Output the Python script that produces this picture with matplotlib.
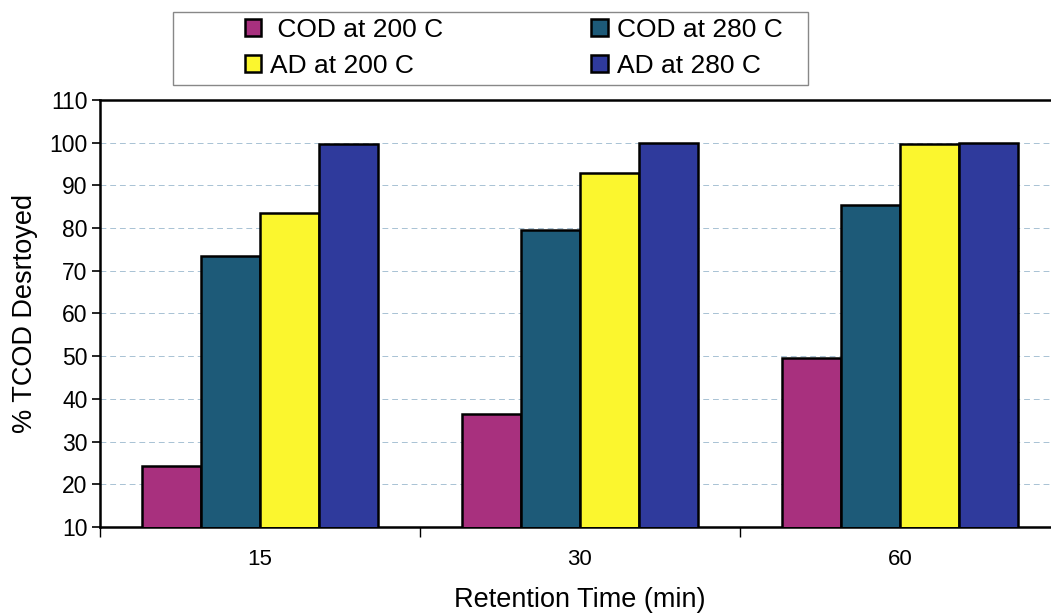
import matplotlib

matplotlib.use("Agg")
import matplotlib.pyplot as plt
from matplotlib.patches import Rectangle
import numpy as np

# data
retention = ["15", "30", "60"]
series = ["COD at 200 C", "COD at 280 C", "AD at 200 C", "AD at 280 C"]
cod_200 = [24.2, 36.5, 49.5]
cod_280 = [73.5, 79.5, 85.3]
ad_200 = [83.5, 92.8, 99.8]
ad_280 = [99.6, 100.0, 100.0]

COLORS = ["#A8307E", "#1D5A78", "#FBF62E", "#2F3A9C"]
LEGEND_LABELS = [" COD at 200 C", "COD at 280 C", "AD at 200 C", "AD at 280 C"]

plt.rcParams["font.family"] = ["Liberation Sans", "DejaVu Sans"]

fig = plt.figure(figsize=(10.51, 6.13), dpi=100)
ax = fig.add_axes([0.0951, 0.1403, 0.9134, 0.6966])

x = np.arange(len(retention))
width = 0.185
values = [cod_200, cod_280, ad_200, ad_280]
handles = []
for j, ys in enumerate(values):
    h = ax.bar(
        x + (j - 1.5) * width,
        ys,
        width,
        bottom=0,
        color=COLORS[j],
        edgecolor="black",
        linewidth=1.8,
        label=LEGEND_LABELS[j],
        zorder=3,
    )
    handles.append(h)

ax.set_ylim(10, 110)
ax.set_xlim(-0.5, 2.5)
ax.set_yticks(np.arange(10, 111, 10))
ax.set_xticks(x)
ax.set_xticklabels(retention)
ax.set_xticks(np.arange(-0.5, 2.6, 1.0), minor=True)
ax.tick_params(axis="x", which="major", length=0, labelsize=16, pad=16)
ax.tick_params(axis="x", which="minor", length=7, width=1, direction="out")
ax.tick_params(axis="y", length=6, width=1.2, direction="out", labelsize=16.5, pad=3)

ax.grid(axis="y", color="#a8c2d4", linestyle=(0, (6, 4)), linewidth=0.7, zorder=0)
for side in ("left", "bottom", "top"):
    ax.spines[side].set_linewidth(1.8)
    ax.spines[side].set_color("black")
ax.spines["right"].set_visible(False)

ax.set_ylabel("% TCOD Desrtoyed", fontsize=19.5, labelpad=8)
ax.set_xlabel("Retention Time (min)", fontsize=19.5, labelpad=12)

# legend box drawn separately; the entries sit left-of-centre inside it
fig.patches.append(
    Rectangle(
        (0.1646, 0.8613), 0.6042, 0.1191,
        transform=fig.transFigure, fill=False, edgecolor="#888888", linewidth=1.0,
    )
)
order = [0, 2, 1, 3]  # fills column-wise: 200 C on the left, 280 C on the right
leg = fig.legend(
    [handles[i] for i in order],
    [LEGEND_LABELS[i] for i in order],
    ncol=2,
    loc="center left",
    bbox_to_anchor=(0.233, 1 - 48 / 613),
    fontsize=19,
    frameon=False,
    handlelength=0.62,
    handleheight=0.62,
    handletextpad=0.35,
    columnspacing=5.6,
    borderaxespad=0,
    labelspacing=0.45,
    borderpad=0,
)

fig.savefig("out.png", dpi=100)
